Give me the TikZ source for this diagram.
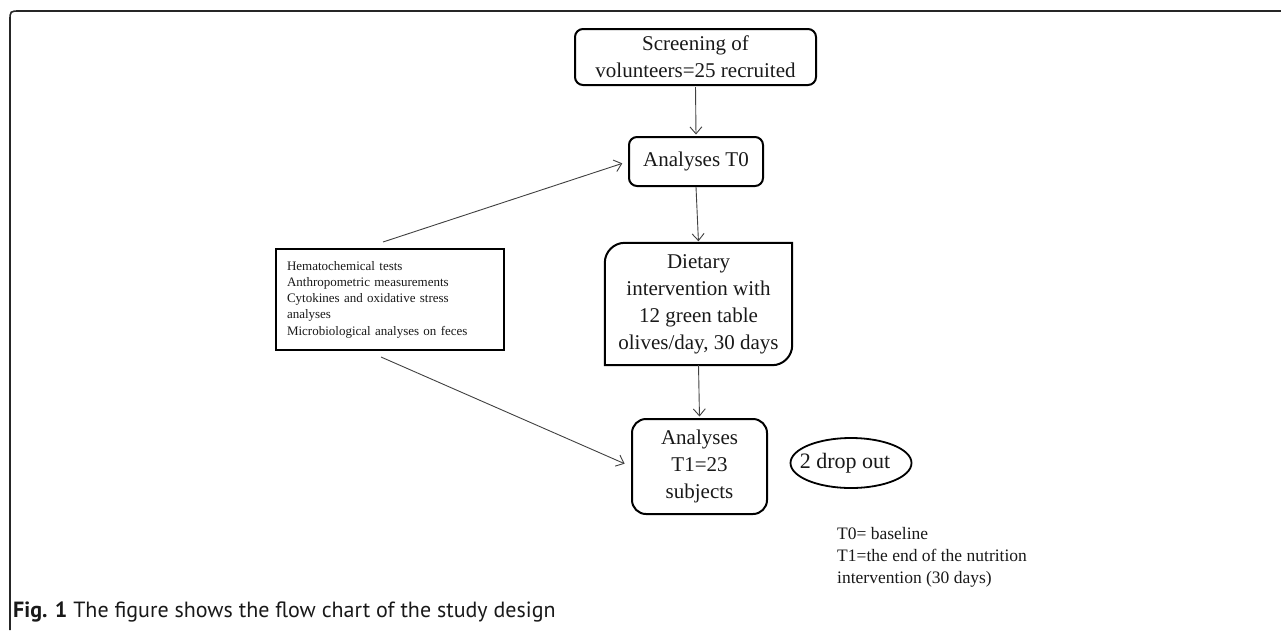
\documentclass[tikz,border=0pt]{standalone}
\usepackage{fontspec}
\setmainfont{Liberation Serif}
\newfontfamily\capfont{PT Sans}
\usetikzlibrary{arrows.meta,calc,shapes.geometric}
\begin{document}
\begin{tikzpicture}[x=1pt,y=-1pt,
  stage/.style={draw=black, line width=2pt, rounded corners=8pt, align=center,
    inner sep=0pt, text=black!90, font=\fontsize{21}{27}\selectfont},
  flow/.style={draw=black!75, line width=0.9pt,
    -{Straight Barb[length=7pt,width=12pt,line width=0.9pt]}},
]
\useasboundingbox (0,0) rectangle (1281,630);

% page frame with rounded top-left corner
\draw[line width=1.6pt, black!85] (10,630) -- (10,21) .. controls (10,11) .. (20,11) -- (1281,11);

% main flow
\node[stage, minimum width=241pt, minimum height=56pt] (screen) at (695.5,57)
  {Screening of\\volunteers=25 recruited};
\node[stage, minimum width=134pt, minimum height=49pt] (t0) at (696,161.5)
  {Analyses T0};
\node[align=center, inner sep=0pt, minimum width=187pt, minimum height=122pt,
  text=black!90, font=\fontsize{21}{27}\selectfont] (diet) at (698.5,304)
  {Dietary\\intervention with\\12 green table\\olives/day, 30 days};
% box with two diagonal corners rounded (top left, bottom right)
\draw[line width=2pt]
  ($(diet.north west)+(0,20)$)
    .. controls ($(diet.north west)+(0,9)$) and ($(diet.north west)+(9,0)$) .. ($(diet.north west)+(20,0)$)
  -- (diet.north east)
  -- ($(diet.south east)+(0,-20)$)
    .. controls ($(diet.south east)+(0,-9)$) and ($(diet.south east)+(-9,0)$) .. ($(diet.south east)+(-20,0)$)
  -- (diet.south west) -- cycle;
\node[stage, rounded corners=14pt, minimum width=135pt, minimum height=95pt] (t1) at (699.5,466.5)
  {Analyses\\T1=23\\subjects};

% drop-out ellipse, its text sitting towards the left rim
\node[ellipse, draw, line width=1.8pt, minimum width=121pt, minimum height=50pt, inner sep=0pt] (drop) at (851,463) {};
\node[inner sep=0pt, text=black!90, font=\fontsize{22}{27}\selectfont] (droptext) at ($(drop.center)+(-6,0)$) {2 drop out};

% list of analyses
\node[draw, line width=2pt, minimum width=228pt, minimum height=101pt, inner sep=0pt,
  text width=206pt, align=left, text=black!90, font=\fontsize{13}{16.3}\selectfont] (tests) at (390,299.5)
  {Hematochemical tests\\Anthropometric measurements\\Cytokines and oxidative stress\\analyses\\Microbiological analyses on feces};

\coordinate (tu) at ($(tests.north)+(-7,-6)$);
\coordinate (tl) at ($(tests.south)+(-9,6)$);

% connectors
\draw[flow, shorten <=1pt, shorten >=1.5pt] (screen.south) -- (t0.north);
\draw[flow, shorten >=1.5pt] (t0.south) -- (diet.north);
\draw[flow, shorten >=1.5pt] (diet.south) -- (t1.north);
\draw[flow, shorten >=6pt] (tu) -- (t0.west);
\draw[flow, shorten >=7pt] (tl) -- (t1.west);

% key
\node[anchor=north west, align=left, inner sep=0pt, text=black!90,
  font=\fontsize{17.5}{22}\selectfont] (key) at (837,527)
  {T0= baseline\\T1=the end of the nutrition\\intervention (30 days)};

% caption
\node[anchor=west, inner sep=0pt, text=black!90, font=\capfont\fontsize{22}{24}\selectfont] (cap) at (13,612)
  {\textbf{Fig. 1} The figure shows the flow chart of the study design};
\end{tikzpicture}
\end{document}
